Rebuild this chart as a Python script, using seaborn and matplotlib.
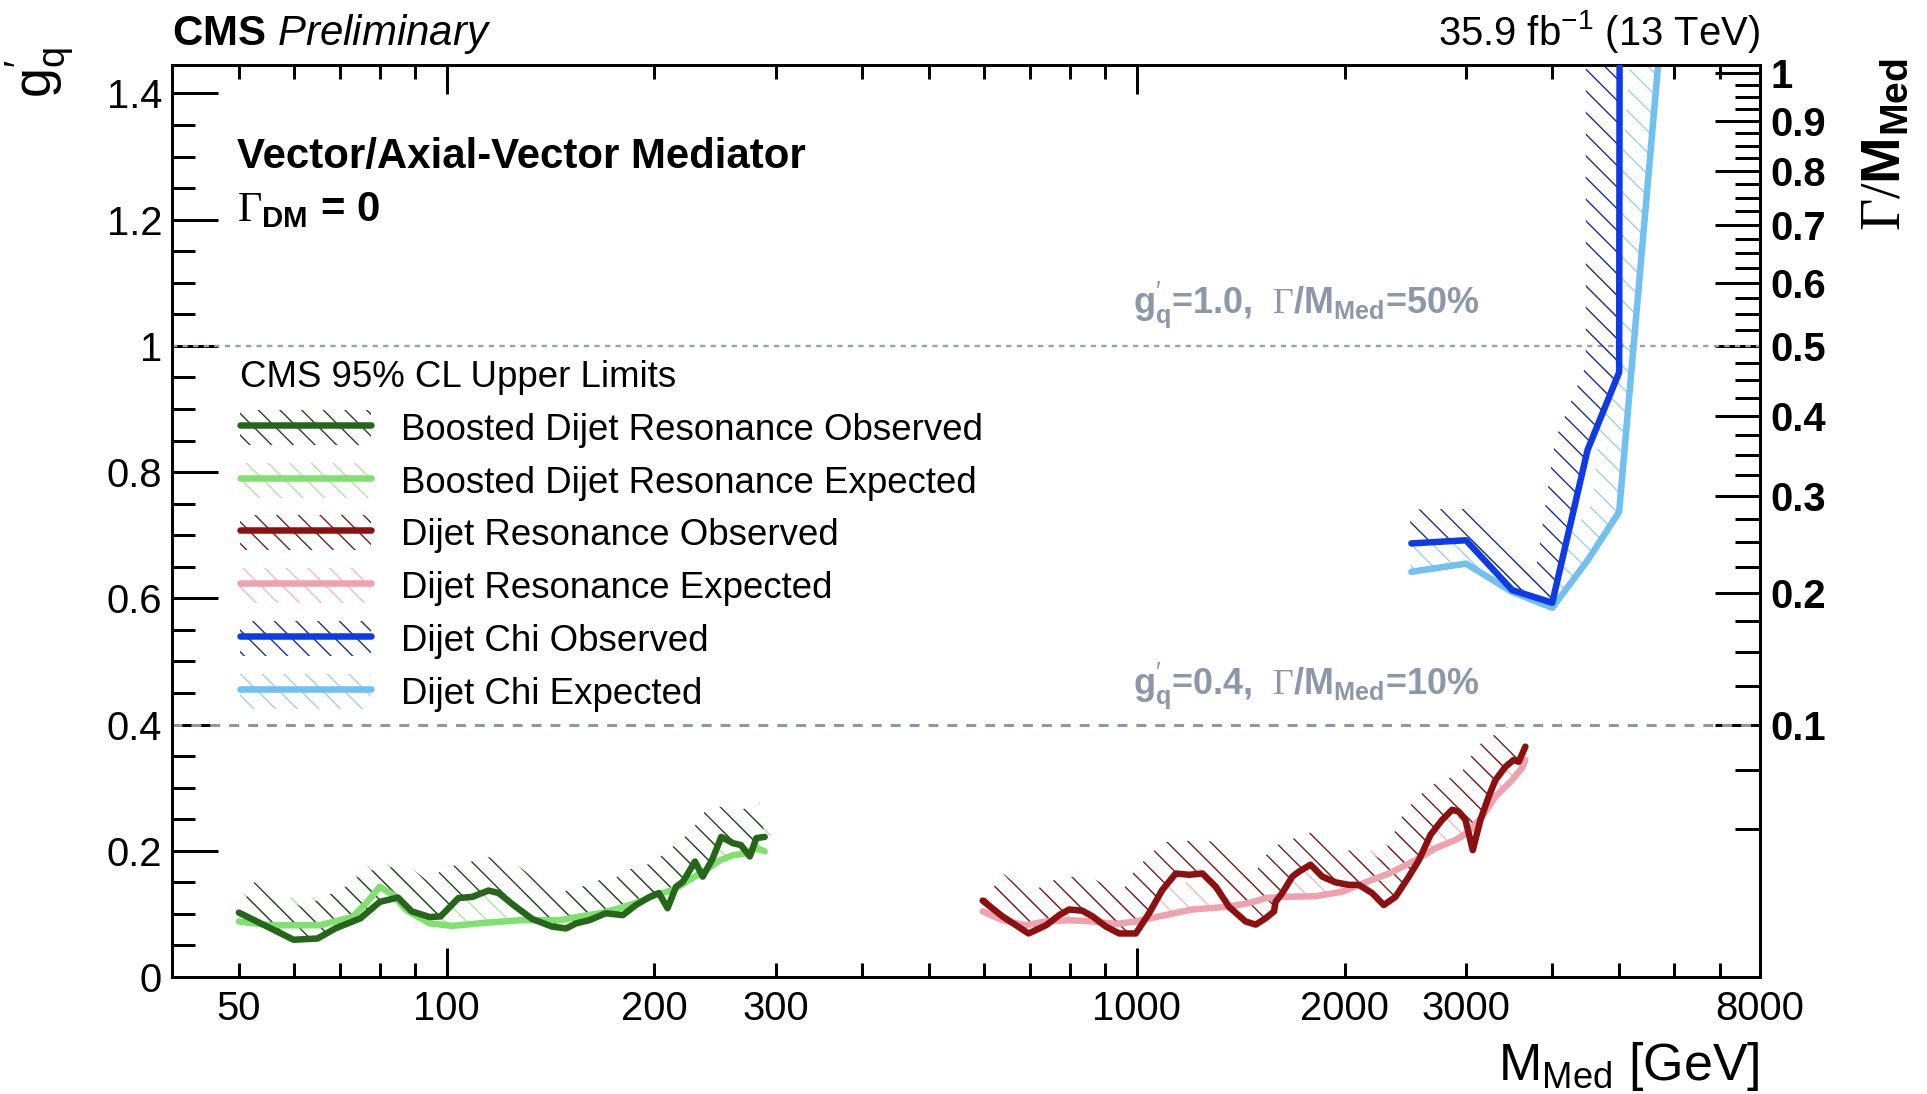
import numpy as np
import matplotlib
matplotlib.use("Agg")
import matplotlib.pyplot as plt
import seaborn as sns
from matplotlib.lines import Line2D
from matplotlib.patches import Patch
from matplotlib.transforms import blended_transform_factory

# ---------------- data ----------------
boosted_mass_obs = [50, 54, 60, 65, 69, 75, 80, 85, 89, 94.5, 98, 104, 109, 115, 119, 125,
                    133, 142, 149, 154, 161, 170, 180, 188, 197, 203, 209, 215, 220, 229,
                    235, 243, 250, 260, 267, 275, 281, 289]
boosted_obs = [0.102, 0.084, 0.059, 0.061, 0.077, 0.093, 0.119, 0.126, 0.104, 0.095, 0.096,
               0.125, 0.127, 0.137, 0.133, 0.114, 0.092, 0.080, 0.077, 0.085, 0.090, 0.101,
               0.098, 0.114, 0.127, 0.133, 0.109, 0.143, 0.151, 0.183, 0.159, 0.188, 0.222,
               0.212, 0.209, 0.191, 0.220, 0.222]

boosted_mass_exp = [50, 55.5, 65.5, 73, 76.5, 80, 83.6, 87.4, 94.5, 102, 114, 128, 136, 146,
                    156, 167, 178, 190, 201, 213, 225, 238, 249, 260, 272, 281, 289]
boosted_exp = [0.088, 0.082, 0.082, 0.095, 0.117, 0.143, 0.130, 0.106, 0.085, 0.081, 0.086,
               0.090, 0.090, 0.090, 0.096, 0.101, 0.109, 0.119, 0.130, 0.138, 0.154, 0.170,
               0.185, 0.193, 0.196, 0.204, 0.199]

dijet_mass_obs = [598, 639, 697, 739, 772, 798, 834, 863, 902, 943, 997, 1042, 1089, 1139,
                  1191, 1245, 1302, 1361, 1438, 1487, 1537, 1581, 1589, 1625, 1680, 1718,
                  1786, 1857, 1941, 2029, 2098, 2193, 2280, 2371, 2479, 2563, 2664, 2770,
                  2864, 2928, 2994, 3068, 3148, 3236, 3309, 3421, 3517, 3577, 3657]
dijet_obs = [0.121, 0.096, 0.069, 0.082, 0.098, 0.107, 0.105, 0.096, 0.080, 0.069, 0.069,
             0.101, 0.138, 0.164, 0.162, 0.164, 0.143, 0.111, 0.088, 0.083, 0.093, 0.104,
             0.119, 0.133, 0.159, 0.167, 0.178, 0.159, 0.150, 0.146, 0.146, 0.133, 0.114,
             0.127, 0.159, 0.185, 0.225, 0.249, 0.265, 0.262, 0.249, 0.201, 0.249, 0.286,
             0.312, 0.333, 0.344, 0.341, 0.365]

dijet_mass_exp = [598, 639, 690, 738, 798, 863, 932, 997, 1077, 1204, 1346, 1454, 1537, 1625,
                  1816, 1984, 2145, 2320, 2535, 2709, 2896, 3027, 3165, 3309, 3498, 3616, 3657]
dijet_exp = [0.104, 0.090, 0.082, 0.088, 0.090, 0.088, 0.084, 0.088, 0.096, 0.107, 0.111,
             0.117, 0.125, 0.127, 0.128, 0.135, 0.150, 0.164, 0.185, 0.204, 0.217, 0.230,
             0.254, 0.286, 0.312, 0.331, 0.344]

chi_mass_obs = [2500, 3000, 3500, 4000, 4500, 5000, 5010]
chi_obs = [0.687, 0.692, 0.613, 0.593, 0.835, 0.958, 1.60]

chi_mass_exp = [2500, 3000, 3500, 4000, 4500, 5000, 6000]
chi_exp = [0.642, 0.655, 0.610, 0.585, 0.660, 0.737, 1.73]

# benchmark couplings and the corresponding relative widths
ref_couplings = [1.0, 0.4]
ref_widths = [0.5, 0.1]
ref_labels = [r"$\mathbf{g}_{\mathbf{q}}^{\prime}$=1.0,  $\mathsf{\Gamma}$/M$_{\mathbf{Med}}$=50%",
              r"$\mathbf{g}_{\mathbf{q}}^{\prime}$=0.4,  $\mathsf{\Gamma}$/M$_{\mathbf{Med}}$=10%"]

legend_labels = ["Boosted Dijet Resonance Observed", "Boosted Dijet Resonance Expected",
                 "Dijet Resonance Observed", "Dijet Resonance Expected",
                 "Dijet Chi Observed", "Dijet Chi Expected"]
line_colors = ["#26661a", "#80e070", "#8c1010", "#eea2ad", "#0f3be6", "#70c0f0"]
hatch_colors = ["#233f1e", "#a8e8a0", "#6e1a1a", "#f0b8c2", "#1a2a8a", "#9ccff0"]

y_major = [0, 0.2, 0.4, 0.6, 0.8, 1.0, 1.2, 1.4]
y_major_labels = ["0", "0.2", "0.4", "0.6", "0.8", "1", "1.2", "1.4"]
x_major = [100, 1000]
x_major_labels = ["100", "1000"]
x_minor = [50, 60, 70, 80, 90, 200, 300, 400, 500, 600, 700, 800, 900,
           2000, 3000, 4000, 5000, 6000, 7000, 8000]
x_minor_labels = ["50", "", "", "", "", "200", "300", "", "", "", "", "", "",
                  "2000", "3000", "", "", "", "", "8000"]
w_major = [0.1, 0.2, 0.3, 0.4, 0.5, 0.6, 0.7, 0.8, 0.9, 1.0]
w_major_labels = ["0.1", "0.2", "0.3", "0.4", "0.5", "0.6", "0.7", "0.8", "0.9", "1"]

# ---------------- style ----------------
DPI = 130
PX = 72.0 / DPI          # points per pixel
W, H = 1927, 1094
HATCH = "\\\\"
LW = 6.5 * PX

sns.set_theme(style="ticks")
plt.rcParams["font.family"] = ["Liberation Sans", "DejaVu Sans"]
plt.rcParams.update({
    "mathtext.fontset": "custom",
    "mathtext.rm": "Liberation Sans",
    "mathtext.it": "Liberation Sans:italic",
    "mathtext.bf": "Liberation Sans:bold",
    "mathtext.sf": "Liberation Serif",
    "hatch.linewidth": 0.75,
    "axes.linewidth": 3 * PX,
    "axes.edgecolor": "black",
    "text.color": "black",
    "xtick.color": "black",
    "ytick.color": "black",
})


def fpos(x, y):
    """pixel position measured from the top-left corner -> figure fraction"""
    return x / W, 1 - y / H


fig = plt.figure(figsize=(W / DPI, H / DPI), dpi=DPI)
fig.patch.set_facecolor("white")
L, R, T, B = 172, 1760, 65, 977
ax = fig.add_axes([L / W, 1 - B / H, (R - L) / W, (B - T) / H])
ax.set_xscale("log")
XLIM, YLIM = (40, 8000), (0, 1.445)
ax.set_xlim(*XLIM)
ax.set_ylim(*YLIM)

# benchmark lines
ax.axhline(ref_couplings[0], color="#9aa1b0", lw=2.4 * PX, ls=(0, (2.2, 2.2)), zorder=1)
ax.axhline(ref_couplings[1], color="#8d97aa", lw=3 * PX, ls=(0, (3.3, 3.0)), zorder=1)


def hatch_band(x, y, width_px):
    """polygon of a band of constant pixel width on the excluded side of a curve"""
    pts = ax.transData.transform(np.column_stack([x, y]))
    d = np.diff(pts, axis=0)
    seg_n = np.column_stack([-d[:, 1], d[:, 0]])
    seg_n /= np.hypot(seg_n[:, 0], seg_n[:, 1])[:, None]
    n = np.zeros_like(pts)
    n[:-1] += seg_n
    n[1:] += seg_n
    n /= np.hypot(n[:, 0], n[:, 1])[:, None]
    off = pts + n * width_px
    poly = np.vstack([pts, off[::-1]])
    return ax.transData.inverted().transform(poly)


series = [
    (boosted_mass_obs, boosted_obs, True),
    (boosted_mass_exp, boosted_exp, False),
    (dijet_mass_obs, dijet_obs, True),
    (dijet_mass_exp, dijet_exp, False),
    (chi_mass_obs, chi_obs, True),
    (chi_mass_exp, chi_exp, False),
]

# hatched bands first, expected under observed
order = [1, 0, 3, 2, 5, 4]
for i in order:
    mx, my, observed = series[i]
    poly = hatch_band(mx, my, 34 if observed else 28)
    ax.fill(poly[:, 0], poly[:, 1], facecolor="none", edgecolor=hatch_colors[i],
            hatch=HATCH, linewidth=0, zorder=1.5 + (0.1 if observed else 0))

for i in order:
    mx, my, observed = series[i]
    sns.lineplot(x=mx, y=my, ax=ax, color=line_colors[i], linewidth=LW,
                 estimator=None, sort=False, errorbar=None, legend=False,
                 zorder=3 if observed else 2.5)

ax.set_xlim(*XLIM)
ax.set_ylim(*YLIM)
ax.set_xlabel("")
ax.set_ylabel("")

# ---------------- axes / ticks ----------------
ax.set_yticks(y_major, labels=y_major_labels)
ax.set_yticks(np.arange(0.05, 1.44, 0.05), minor=True)
ax.set_xticks(x_major, labels=x_major_labels)
ax.set_xticks(x_minor, labels=x_minor_labels, minor=True)

ax.tick_params(axis="x", which="major", direction="in", length=29 * PX, width=3 * PX,
               top=True, bottom=True, labelsize=40 * PX, pad=13 * PX)
ax.tick_params(axis="x", which="minor", direction="in", length=14 * PX, width=3 * PX,
               top=True, bottom=True, labelsize=40 * PX, pad=13 * PX)
ax.tick_params(axis="y", which="major", direction="in", length=46 * PX, width=3 * PX,
               left=True, right=False, labelsize=40 * PX, pad=10 * PX)
ax.tick_params(axis="y", which="minor", direction="in", length=23 * PX, width=3 * PX,
               left=True, right=False)

# relative width axis on the right: Gamma/M = K g^2 + W0
K = (ref_widths[0] - ref_widths[1]) / (ref_couplings[0] ** 2 - ref_couplings[1] ** 2)
W0 = ref_widths[0] - K * ref_couplings[0] ** 2


def g_to_w(g):
    return K * np.square(g) + W0


def w_to_g(w):
    return np.sqrt(np.clip((np.asarray(w) - W0) / K, 0, None))


sec = ax.secondary_yaxis("right", functions=(g_to_w, w_to_g))
sec.set_yticks(w_major, labels=w_major_labels)
w_minor = [w for w in np.arange(0.05, 1.0, 0.025) if abs(w * 10 - round(w * 10)) > 1e-6]
sec.set_yticks(w_minor, minor=True)
sec.tick_params(which="major", direction="in", length=45 * PX, width=3 * PX,
                labelsize=40 * PX, pad=10 * PX)
sec.tick_params(which="minor", direction="in", length=25 * PX, width=3 * PX)
for lab in sec.get_yticklabels():
    lab.set_fontweight("bold")
sec.spines["right"].set_linewidth(3 * PX)

# ---------------- texts ----------------
fig.text(*fpos(172, 45), r"$\mathbf{CMS}$ $\mathit{Preliminary}$", fontsize=42 * PX,
         ha="left", va="baseline")
fig.text(*fpos(1760, 45), r"35.9 fb$^{\mathrm{-1}}$ (13 TeV)", fontsize=40 * PX,
         ha="right", va="baseline")

fig.text(*fpos(40, 47), r"$\mathrm{g}_{\mathrm{q}}^{\prime}$", fontsize=54 * PX,
         rotation=90, ha="center", va="top")
fig.text(*fpos(1886, 58), r"$\mathsf{\Gamma/}\mathbf{M}_{\mathbf{Med}}$", fontsize=56 * PX,
         rotation=90, ha="center", va="top")
fig.text(*fpos(1760, 1080), r"$\mathrm{M}_{\mathrm{Med}}$ [GeV]", fontsize=52 * PX,
         ha="right", va="baseline")

fig.text(*fpos(237, 168), "Vector/Axial-Vector Mediator", fontsize=42 * PX,
         fontweight="bold", ha="left", va="baseline")
fig.text(*fpos(237, 221), r"$\mathsf{\Gamma}_{\mathbf{DM}}$ = 0", fontsize=42 * PX,
         fontweight="bold", ha="left", va="baseline")

blend = blended_transform_factory(ax.transAxes, ax.transData)
ref_x = (1133 - L) / (R - L)
for gval, lab, dy in zip(ref_couplings, ref_labels, [0.052, 0.049]):
    ax.text(ref_x, gval + dy, lab, transform=blend, color="#8d97aa", fontsize=36 * PX,
            fontweight="bold", ha="left", va="baseline")

# ---------------- legend ----------------
handles = []
for lc, hc in zip(line_colors, hatch_colors):
    handles.append((Patch(facecolor="none", edgecolor=hc, hatch=HATCH, linewidth=0),
                    Line2D([], [], color=lc, linewidth=LW)))
ax.legend(handles, legend_labels, loc="upper left", bbox_to_anchor=fpos(240, 360),
          bbox_transform=fig.transFigure, frameon=False, title="CMS 95% CL Upper Limits",
          alignment="left", borderpad=0, borderaxespad=0, handlelength=131 / 36.6,
          handleheight=40 / 36.6, handletextpad=30 / 36.6, labelspacing=0.405,
          fontsize=36.6 * PX, title_fontsize=36.6 * PX)

fig.savefig("out.png", dpi=DPI, facecolor="white")
